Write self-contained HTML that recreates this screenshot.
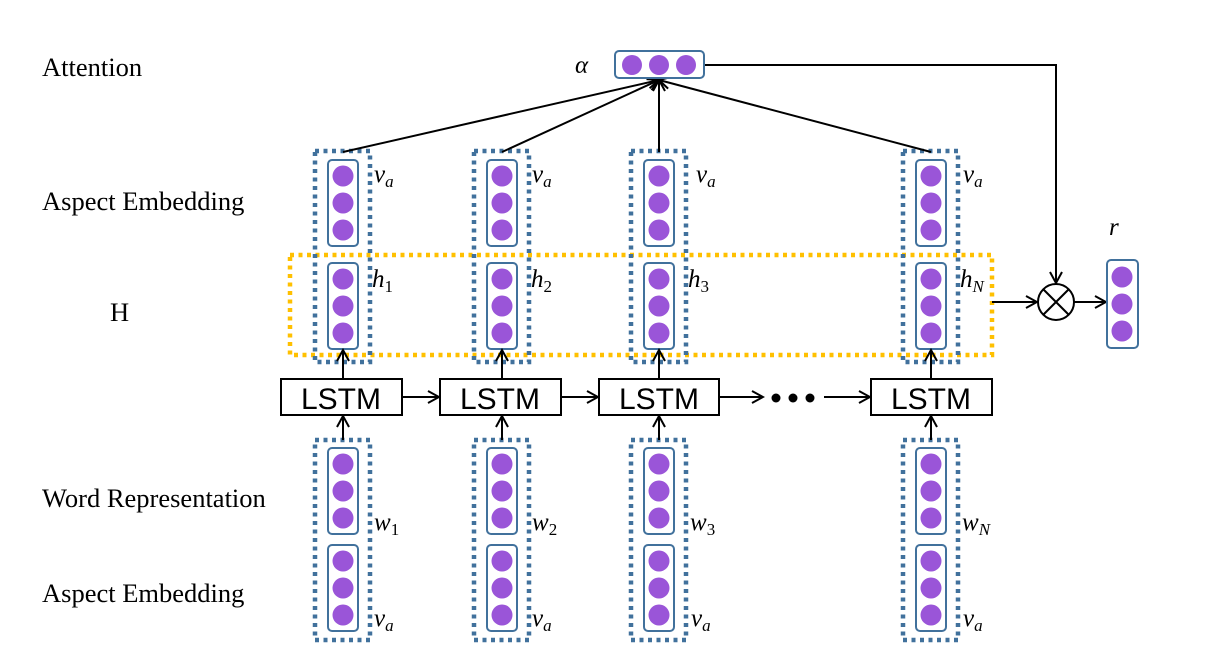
<!DOCTYPE html>
<html><head><meta charset="utf-8"><style>
html,body{margin:0;padding:0;background:#fff;}
svg{display:block;}
.lbl{font-family:"Liberation Serif",serif;font-size:26.5px;fill:#000;}
.m{font-family:"Liberation Serif",serif;font-style:italic;font-size:25px;fill:#000;}
.s{font-size:17px;font-style:normal;}
.si{font-size:17px;font-style:italic;}
.lstm{font-family:"Liberation Sans",sans-serif;font-size:30px;fill:#000;}
</style></head><body>
<svg width="1213" height="671" viewBox="0 0 1213 671" xmlns="http://www.w3.org/2000/svg">
<defs>
<marker id="ar" markerWidth="14" markerHeight="14" refX="12" refY="7" orient="auto" markerUnits="userSpaceOnUse">
<path d="M1,1 L12,7 L1,13" fill="none" stroke="#000" stroke-width="2"/>
</marker>
<g id="vec">
<rect x="-15" y="0" width="30" height="86" rx="4" fill="#fff" stroke="#41719c" stroke-width="2"/>
<circle cx="0" cy="16" r="10.5" fill="#9a55d8"/>
<circle cx="0" cy="43" r="10.5" fill="#9a55d8"/>
<circle cx="0" cy="70" r="10.5" fill="#9a55d8"/>
</g>
<g id="col">
<rect x="-28" y="151" width="55" height="211" fill="none" stroke="#41719c" stroke-width="4.5" stroke-dasharray="4 4.5"/>
<use href="#vec" y="160"/>
<use href="#vec" y="263"/>
<rect x="-28" y="440" width="55" height="200" fill="none" stroke="#41719c" stroke-width="4.5" stroke-dasharray="4 4.5"/>
<use href="#vec" y="448"/>
<use href="#vec" y="545"/>
<line x1="0" y1="440" x2="0" y2="416" stroke="#000" stroke-width="2" marker-end="url(#ar)"/>
<line x1="0" y1="379" x2="0" y2="350" stroke="#000" stroke-width="2" marker-end="url(#ar)"/>
</g>
</defs>

<text class="lbl" x="42" y="76">Attention</text>
<text class="lbl" x="42" y="210">Aspect Embedding</text>
<text class="lbl" x="110" y="321">H</text>
<text class="lbl" x="42" y="507">Word Representation</text>
<text class="lbl" x="42" y="602">Aspect Embedding</text>

<rect x="290" y="255" width="702" height="100" fill="none" stroke="#ffc000" stroke-width="4.5" stroke-dasharray="4 4.5"/>

<use href="#col" x="343"/>
<use href="#col" x="502"/>
<use href="#col" x="659"/>
<use href="#col" x="931"/>

<g stroke="#000" stroke-width="2" fill="#fff">
<rect x="281" y="379" width="121" height="36"/>
<rect x="440" y="379" width="121" height="36"/>
<rect x="599" y="379" width="120" height="36"/>
<rect x="871" y="379" width="121" height="36"/>
</g>
<text class="lstm" x="341" y="409" text-anchor="middle">LSTM</text>
<text class="lstm" x="500" y="409" text-anchor="middle">LSTM</text>
<text class="lstm" x="659" y="409" text-anchor="middle">LSTM</text>
<text class="lstm" x="931" y="409" text-anchor="middle">LSTM</text>
<g stroke="#000" stroke-width="2">
<line x1="402" y1="397" x2="439" y2="397" marker-end="url(#ar)"/>
<line x1="561" y1="397" x2="598" y2="397" marker-end="url(#ar)"/>
<line x1="719" y1="397" x2="763" y2="397" marker-end="url(#ar)"/>
<line x1="824" y1="397" x2="870" y2="397" marker-end="url(#ar)"/>
</g>
<circle cx="776" cy="398" r="4.5" fill="#000"/>
<circle cx="793" cy="398" r="4.5" fill="#000"/>
<circle cx="810" cy="398" r="4.5" fill="#000"/>

<g stroke="#000" stroke-width="2" fill="none">
<line x1="343" y1="152" x2="659" y2="80" marker-end="url(#ar)"/>
<line x1="502" y1="152" x2="659" y2="80" marker-end="url(#ar)"/>
<line x1="659" y1="152" x2="659" y2="80" marker-end="url(#ar)"/>
<line x1="931" y1="152" x2="659" y2="80" marker-end="url(#ar)"/>
<polyline points="704,65 1056,65 1056,283" marker-end="url(#ar)"/>
<line x1="992" y1="302" x2="1037" y2="302" marker-end="url(#ar)"/>
<line x1="1074" y1="302" x2="1106" y2="302" marker-end="url(#ar)"/>
<circle cx="1056" cy="302" r="18" fill="#fff"/>
<line x1="1043" y1="289" x2="1069" y2="315"/>
<line x1="1069" y1="289" x2="1043" y2="315"/>
</g>

<rect x="615" y="51" width="89" height="27" rx="4" fill="#fff" stroke="#41719c" stroke-width="2"/>
<circle cx="632" cy="65" r="10" fill="#9a55d8"/>
<circle cx="659" cy="65" r="10" fill="#9a55d8"/>
<circle cx="686" cy="65" r="10" fill="#9a55d8"/>
<text class="m" x="575" y="73">α</text>

<rect x="1107" y="260" width="31" height="88" rx="4" fill="#fff" stroke="#41719c" stroke-width="2"/>
<circle cx="1122" cy="277" r="10.5" fill="#9a55d8"/>
<circle cx="1122" cy="304" r="10.5" fill="#9a55d8"/>
<circle cx="1122" cy="331" r="10.5" fill="#9a55d8"/>
<text class="m" x="1109" y="235">r</text>

<text class="m" x="374" y="182">v<tspan class="si" dy="5">a</tspan></text>
<text class="m" x="532" y="182">v<tspan class="si" dy="5">a</tspan></text>
<text class="m" x="696" y="182">v<tspan class="si" dy="5">a</tspan></text>
<text class="m" x="963" y="182">v<tspan class="si" dy="5">a</tspan></text>

<text class="m" x="372" y="287">h<tspan class="s" dy="5">1</tspan></text>
<text class="m" x="531" y="287">h<tspan class="s" dy="5">2</tspan></text>
<text class="m" x="688" y="287">h<tspan class="s" dy="5">3</tspan></text>
<text class="m" x="960" y="287">h<tspan class="si" dy="5">N</tspan></text>

<text class="m" x="374" y="530">w<tspan class="s" dy="5">1</tspan></text>
<text class="m" x="532" y="530">w<tspan class="s" dy="5">2</tspan></text>
<text class="m" x="690" y="530">w<tspan class="s" dy="5">3</tspan></text>
<text class="m" x="962" y="530">w<tspan class="si" dy="5">N</tspan></text>

<text class="m" x="374" y="626">v<tspan class="si" dy="5">a</tspan></text>
<text class="m" x="532" y="626">v<tspan class="si" dy="5">a</tspan></text>
<text class="m" x="691" y="626">v<tspan class="si" dy="5">a</tspan></text>
<text class="m" x="963" y="626">v<tspan class="si" dy="5">a</tspan></text>
</svg>
</body></html>
